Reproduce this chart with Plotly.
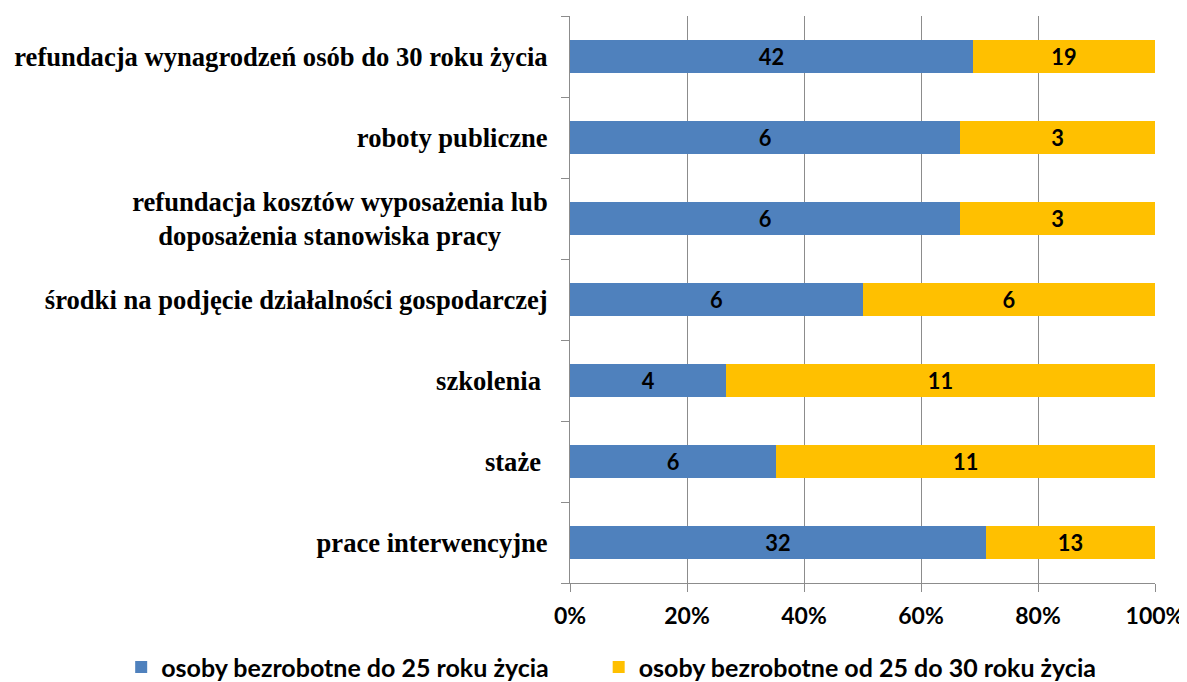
import plotly.graph_objects as go

categories = [
    "prace interwencyjne",
    "staże\u00a0",
    "szkolenia\u00a0",
    "środki na podjęcie działalności gospodarczej",
    "refundacja kosztów wyposażenia lub<br>doposażenia stanowiska pracy" + "\u00a0" * 7,
    "roboty publiczne",
    "refundacja wynagrodzeń osób do 30 roku życia",
]
under25 = [32, 6, 4, 6, 6, 6, 42]
from25to30 = [13, 11, 11, 6, 3, 3, 19]
series_names = ["osoby bezrobotne do 25 roku życia", "osoby bezrobotne od 25 do 30 roku życia"]
tick_vals = [0, 20, 40, 60, 80, 100]
tick_text = ["0%", "20%", "40%", "60%", "80%", "100%"]

SANS = "Lato, Carlito, Calibri, sans-serif"
SERIF = "'Liberation Serif', 'Times New Roman', 'DejaVu Serif', serif"

fig = go.Figure()
for name, vals, color, lg in [
    (series_names[0], under25, "#4F81BD", "legend"),
    (series_names[1], from25to30, "#FFC000", "legend2"),
]:
    fig.add_trace(go.Bar(
        y=categories, x=vals, name=name, orientation="h",
        marker=dict(color=color, line=dict(width=0)),
        text=[str(v) for v in vals], texttemplate="<b>%{text}</b>",
        textposition="inside", insidetextanchor="middle", textangle=0,
        textfont=dict(family=SANS, size=24, color="black"),
        hoverinfo="skip", legend=lg, showlegend=True,
    ))

legend_common = dict(orientation="h", xref="container", xanchor="left",
                     y=-0.108, yanchor="top", visible=True,
                     font=dict(family=SANS, size=25, color="black", weight="bold"),
                     itemwidth=30)

# the page body has an 8px margin, so the figure is 8px smaller and margins are shifted
fig.update_layout(
    barmode="stack", barnorm="percent", bargap=0.6,
    width=1179, height=674, showlegend=True,
    margin=dict(l=562, r=32, t=8, b=99, autoexpand=False),
    paper_bgcolor="white", plot_bgcolor="white",
    legend=dict(x=0.096, **legend_common),
    legend2=dict(x=0.501, **legend_common),
)
fig.update_xaxes(
    range=[0, 100], tickvals=tick_vals, ticktext=tick_text,
    showgrid=True, gridcolor="#8C8C8C", gridwidth=1,
    showline=True, linecolor="#8C8C8C", linewidth=1,
    ticks="outside", ticklen=8, tickcolor="#8C8C8C",
    tickfont=dict(family=SANS, size=23, color="black", weight="bold"),
    ticklabelstandoff=4,
    zeroline=False, fixedrange=True, automargin=False,
)
fig.update_yaxes(
    categoryorder="array", categoryarray=categories,
    showline=True, linecolor="#8C8C8C", linewidth=1,
    ticks="outside", ticklen=8, tickcolor="#8C8C8C", tickson="boundaries",
    tickfont=dict(family=SERIF, size=26.6, color="black", weight="bold"),
    ticklabelstandoff=16, showgrid=False, fixedrange=True, automargin=False,
)

fig.write_html("out.html")
